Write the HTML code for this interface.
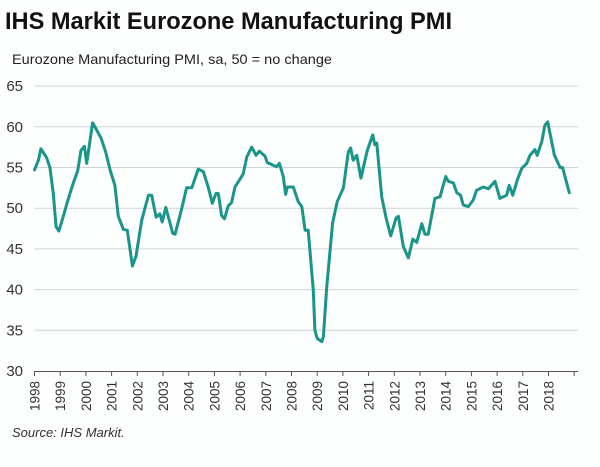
<!DOCTYPE html>
<html><head><meta charset="utf-8"><style>
body{margin:0;width:600px;height:462px;background:#fdfefe;font-family:"Liberation Sans",Arial,sans-serif;overflow:hidden}
</style></head><body>
<svg width="600" height="462" xmlns="http://www.w3.org/2000/svg" font-family="Liberation Sans, Arial, sans-serif">
<text x="5" y="29" font-size="24" font-weight="bold" fill="#111" textLength="447" lengthAdjust="spacingAndGlyphs">IHS Markit Eurozone Manufacturing PMI</text>
<text x="12" y="64" font-size="14" fill="#222" textLength="320" lengthAdjust="spacingAndGlyphs">Eurozone Manufacturing PMI, sa, 50 = no change</text>
<g id="grid"></g><g id="axis"></g><g id="series"></g>
<text x="12" y="437" font-size="13" font-style="italic" fill="#333">Source: IHS Markit.</text>
</svg>
<script>
const yTicks=[30,35,40,45,50,55,60,65];
const years=[1998,1999,2000,2001,2002,2003,2004,2005,2006,2007,2008,2009,2010,2011,2012,2013,2014,2015,2016,2017,2018];
const dates=[1998,1998.15,1998.25,1998.47,1998.6,1998.73,1998.84,1998.95,1999.12,1999.32,1999.51,1999.68,1999.81,1999.94,2000.03,2000.13,2000.26,2000.42,2000.59,2000.78,2000.94,2001.13,2001.26,2001.46,2001.61,2001.81,2001.95,2002.17,2002.43,2002.56,2002.73,2002.88,2002.97,2003.11,2003.21,2003.38,2003.47,2003.73,2003.92,2004.12,2004.37,2004.57,2004.76,2004.92,2005.06,2005.15,2005.28,2005.39,2005.54,2005.67,2005.8,2006.0,2006.12,2006.26,2006.45,2006.62,2006.75,2006.97,2007.06,2007.42,2007.53,2007.68,2007.77,2007.84,2008.07,2008.26,2008.4,2008.53,2008.65,2008.85,2008.91,2009.0,2009.18,2009.24,2009.37,2009.6,2009.78,2010.02,2010.21,2010.3,2010.4,2010.54,2010.7,2010.95,2011.16,2011.24,2011.32,2011.51,2011.68,2011.86,2012.07,2012.16,2012.35,2012.55,2012.72,2012.87,2013.07,2013.19,2013.32,2013.58,2013.78,2014.0,2014.1,2014.3,2014.43,2014.58,2014.68,2014.88,2015.07,2015.2,2015.46,2015.66,2015.92,2016.11,2016.37,2016.47,2016.61,2016.79,2016.96,2017.15,2017.28,2017.47,2017.56,2017.74,2017.86,2017.97,2018.23,2018.45,2018.55,2018.81];
const values=[54.7,55.9,57.3,56.2,55,51.8,47.7,47.2,49,51.2,53.1,54.6,57.1,57.6,55.5,57.6,60.5,59.6,58.6,56.8,54.7,52.8,49,47.4,47.3,42.9,44.1,48.5,51.6,51.6,48.9,49.3,48.3,50.1,48.9,46.9,46.8,50,52.5,52.5,54.8,54.5,52.6,50.6,51.8,51.8,49.1,48.7,50.3,50.7,52.6,53.6,54.2,56.3,57.5,56.5,57,56.4,55.6,55.1,55.5,53.9,51.7,52.6,52.6,50.8,50.2,47.3,47.3,39.9,35,34,33.6,34.2,40.3,48.2,50.8,52.5,56.9,57.4,55.9,56.5,53.7,57.1,59,57.8,58,51.4,48.8,46.6,48.8,49,45.3,43.9,46.2,45.8,48.1,46.8,46.8,51.2,51.4,53.9,53.3,53.1,51.9,51.6,50.4,50.2,51,52.2,52.6,52.4,53.3,51.2,51.6,52.8,51.6,53.5,54.9,55.5,56.5,57.2,56.5,58.2,60.2,60.6,56.5,55,55,51.9];
const NS="http://www.w3.org/2000/svg";
const X0=34.5,XS=25.7,Y0=371,YS=8.14,XR=578;
const xs=t=>X0+(t-1998)*XS, ys=v=>Y0-(v-30)*YS;
function mk(tag,at,parent){const e=document.createElementNS(NS,tag);for(const k in at)e.setAttribute(k,at[k]);document.getElementById(parent).appendChild(e);return e;}
yTicks.forEach(v=>{
  if(v>30){const l=mk('line',{x1:X0,x2:XR,y1:ys(v),y2:ys(v),stroke:'#cfd4d4','stroke-width':1},'grid');
  
  }
  const t=mk('text',{x:23,y:ys(v)+5,'font-size':15,'text-anchor':'end',fill:'#333'},'axis');t.textContent=v;
  
  
});
const ax=mk('line',{x1:X0,x2:XR,y1:Y0+0.5,y2:Y0+0.5,stroke:'#555','stroke-width':1},'axis');


years.concat([2019]).forEach(y=>{
  const x=Math.min(xs(y),XR);
  const tk=mk('line',{x1:x,x2:x,y1:Y0,y2:Y0+5,stroke:'#555'},'axis');
  
  
});
years.forEach(y=>{
  const x=xs(y)+5;
  const t=mk('text',{x:0,y:0,'font-size':13.5,fill:'#333','text-anchor':'end',transform:`translate(${x},${Y0+10}) rotate(-90)`},'axis');
  t.textContent=y;
  
  
});
const p=mk('polyline',{points:dates.map((d,i)=>xs(d).toFixed(1)+','+ys(values[i]).toFixed(1)).join(' '),fill:'none',stroke:'#1a958a','stroke-width':3,'stroke-linejoin':'round','stroke-linecap':'round'},'series');


</script>
</body></html>
